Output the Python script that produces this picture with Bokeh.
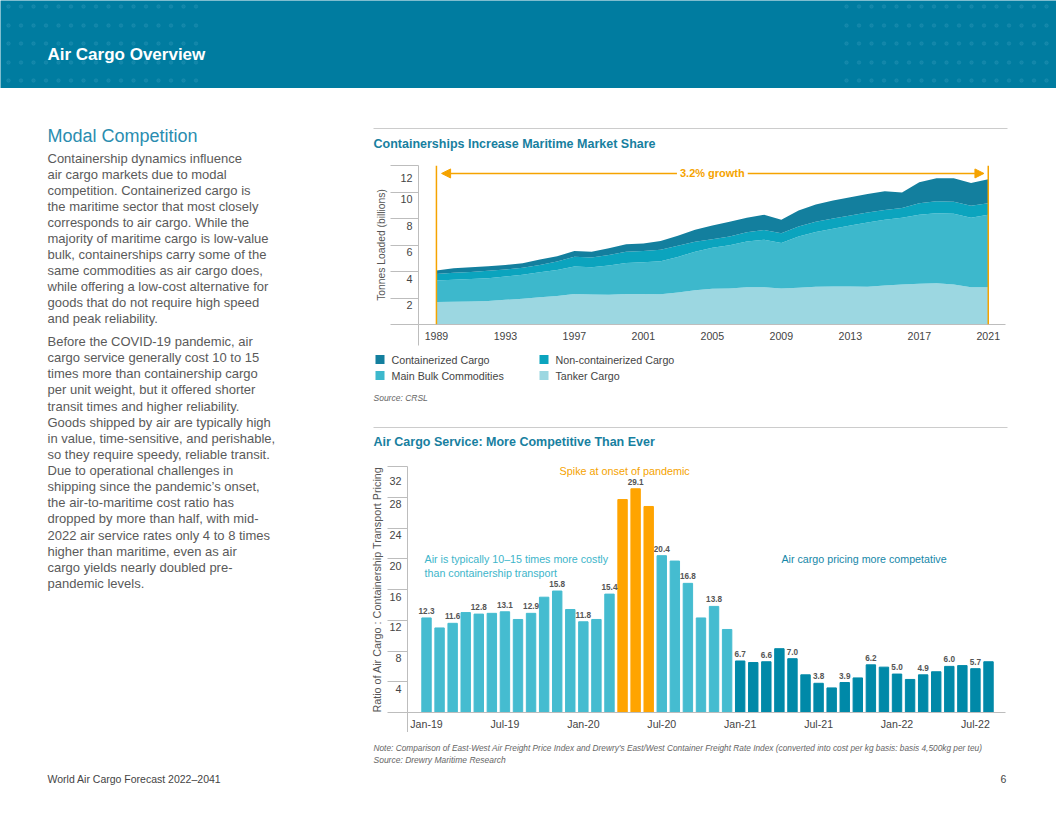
from bokeh.plotting import figure
from bokeh.models import (Range1d, FixedTicker, Label, Span, Arrow, NormalHead, ColumnDataSource)
from bokeh.layouts import column, row
from bokeh.embed import file_html
from bokeh.resources import INLINE
from bokeh.core.properties import value
import numpy as np

FONT = "Liberation Sans"

# ---------------- data: maritime trade (billion tonnes per layer) ----------------
years = list(range(1989, 2022))
tanker = [1.69, 1.72, 1.74, 1.78, 1.86, 1.95, 2.05, 2.15, 2.30, 2.26, 2.25, 2.30, 2.31,
          2.28, 2.42, 2.58, 2.69, 2.72, 2.82, 2.82, 2.72, 2.77, 2.85, 2.86, 2.87, 2.85,
          2.94, 3.02, 3.07, 3.12, 3.02, 2.82, 2.82]
bulk = [1.63, 1.66, 1.69, 1.72, 1.76, 1.80, 1.90, 1.97, 2.08, 2.06, 2.20, 2.35, 2.39,
        2.50, 2.68, 2.92, 3.10, 3.26, 3.44, 3.57, 3.44, 3.87, 4.13, 4.36, 4.60, 4.85,
        4.96, 5.03, 5.21, 5.28, 5.33, 5.23, 5.46]
noncont = [0.50, 0.52, 0.54, 0.55, 0.53, 0.53, 0.55, 0.63, 0.74, 0.73, 0.80, 0.85, 0.85,
           0.87, 0.85, 0.75, 0.65, 0.67, 0.71, 0.75, 0.73, 0.76, 0.77, 0.78, 0.76, 0.75,
           0.75, 0.75, 0.88, 0.91, 0.91, 0.91, 0.88]
cont = [0.26, 0.35, 0.35, 0.35, 0.35, 0.34, 0.40, 0.40, 0.43, 0.45, 0.50, 0.55, 0.57,
        0.65, 0.75, 0.90, 1.03, 1.10, 1.08, 1.14, 1.01, 1.20, 1.30, 1.35, 1.38, 1.40,
        1.41, 1.16, 1.58, 1.73, 1.78, 1.71, 1.81]
layer_names = ["Containerized Cargo", "Non-containerized Cargo",
               "Main Bulk Commodities", "Tanker Cargo"]
year_ticks = [1989, 1993, 1997, 2001, 2005, 2009, 2013, 2017, 2021]
tonnes_ticks = [0, 2, 4, 6, 8, 10, 12]

# ---------------- data: air / container price ratio ----------------
months = ["Jan-19", "Feb-19", "Mar-19", "Apr-19", "May-19", "Jun-19", "Jul-19", "Aug-19",
          "Sep-19", "Oct-19", "Nov-19", "Dec-19", "Jan-20", "Feb-20", "Mar-20", "Apr-20",
          "May-20", "Jun-20", "Jul-20", "Aug-20", "Sep-20", "Oct-20", "Nov-20", "Dec-20",
          "Jan-21", "Feb-21", "Mar-21", "Apr-21", "May-21", "Jun-21", "Jul-21", "Aug-21",
          "Sep-21", "Oct-21", "Nov-21", "Dec-21", "Jan-22", "Feb-22", "Mar-22", "Apr-22",
          "May-22", "Jun-22", "Jul-22", "Aug-22"]
ratio = [12.3, 11.0, 11.6, 13.0, 12.8, 12.9, 13.1, 12.1, 12.9, 15.0, 15.8, 13.4, 11.8,
         12.1, 15.4, 27.7, 29.1, 26.8, 20.4, 19.7, 16.8, 12.3, 13.8, 10.8, 6.7, 6.5,
         6.6, 8.3, 7.0, 4.9, 3.8, 3.2, 3.9, 4.5, 6.2, 5.9, 5.0, 4.3, 4.9, 5.3, 6.0,
         6.1, 5.7, 6.6]
phase = ["pre"] * 15 + ["spike"] * 3 + ["pre"] * 6 + ["post"] * 20
month_ticks = ["Jan-19", "Jul-19", "Jan-20", "Jul-20", "Jan-21", "Jul-21", "Jan-22", "Jul-22"]
ratio_ticks = [0, 4, 8, 12, 16, 20, 24, 28, 32]

# ---------------- colours ----------------
C_HEADER = "#007CA0"
C_TITLE = "#17809F"
C_CONT, C_NONCONT, C_BULK, C_TANKER = "#137F9E", "#0BA4BE", "#3DB8CC", "#9CD7E1"
PHASE_COL = {"pre": "#45BCD0", "spike": "#FFA400", "post": "#0089A8"}
ORANGE = "#F5A300"
AXIS = "#bdbdbd"
TICKTXT = "#444444"

TOP_X = (1987.96, 2022.0)
BOT_X = (-1.454, 44.30)


def blank(width, height, bg="white"):
    f = figure(width=width, height=height, x_range=Range1d(0, width), y_range=Range1d(height, 0),
               x_axis_location=None, y_axis_location=None, toolbar_location=None,
               output_backend="svg", min_border=0, frame_align=False)
    f.grid.visible = False
    f.outline_line_color = None
    f.background_fill_color = bg
    f.border_fill_color = bg
    return f


def txt(f, x, y, texts, size, color, style="normal", align="left"):
    f.text(x=x, y=y, text=texts, text_font=value(FONT), text_font_size=size,
           text_color=color, text_font_style=style, text_align=align,
           text_baseline="middle")


def style_common(p):
    p.grid.visible = False
    p.outline_line_color = None
    p.background_fill_color = "white"
    p.border_fill_color = "white"


def style_axes(ya, xa, tick_out, standoff, label, label_size, label_standoff, xstandoff, drop):
    ya.major_tick_out = tick_out
    ya.major_tick_in = 0
    ya.minor_tick_out = 0
    ya.minor_tick_in = 0
    ya.major_label_standoff = standoff
    ya.axis_line_color = AXIS
    ya.major_tick_line_color = AXIS
    ya.major_label_text_font = FONT
    ya.major_label_text_font_size = "10.8px"
    ya.major_label_text_color = TICKTXT
    ya.axis_label = label
    ya.axis_label_text_font = FONT
    ya.axis_label_text_font_size = label_size
    ya.axis_label_text_font_style = "normal"
    ya.axis_label_text_color = "#555555"
    ya.axis_label_standoff = label_standoff
    xa.major_tick_out = 0
    xa.major_tick_in = 0
    xa.minor_tick_out = drop
    xa.minor_tick_in = 0
    xa.minor_tick_line_color = AXIS
    xa.major_label_standoff = xstandoff - drop
    xa.axis_line_color = AXIS
    xa.major_label_text_font = FONT
    xa.major_label_text_font_size = "10.6px"
    xa.major_label_text_color = TICKTXT


# ---------------- header ----------------
hdr = blank(1056, 88, C_HEADER)
gx, gy = np.meshgrid(np.arange(8, 196, 12.5), [6, 25, 43, 62, 80])
hdr.scatter(gx.ravel(), gy.ravel(), size=3.5, color="#2f97b8", alpha=0.35)
gx2, gy2 = np.meshgrid(np.arange(846, 1050, 12.5), [6, 25, 43, 62, 80])
hdr.scatter(gx2.ravel(), gy2.ravel(), size=3.5, color="#2f97b8", alpha=0.35)
txt(hdr, [47], [54], ["Air Cargo Overview"], "17px", "white", "bold")

# ---------------- left text column ----------------
para1 = ["Containership dynamics influence",
         "air cargo markets due to modal",
         "competition. Containerized cargo is",
         "the maritime sector that most closely",
         "corresponds to air cargo. While the",
         "majority of maritime cargo is low-value",
         "bulk, containerships carry some of the",
         "same commodities as air cargo does,",
         "while offering a low-cost alternative for",
         "goods that do not require high speed",
         "and peak reliability."]
para2 = ["Before the COVID-19 pandemic, air",
         "cargo service generally cost 10 to 15",
         "times more than containership cargo",
         "per unit weight, but it offered shorter",
         "transit times and higher reliability.",
         "Goods shipped by air are typically high",
         "in value, time-sensitive, and perishable,",
         "so they require speedy, reliable transit.",
         "Due to operational challenges in",
         "shipping since the pandemic\u2019s onset,",
         "the air-to-maritime cost ratio has",
         "dropped by more than half, with mid-",
         "2022 air service rates only 4 to 8 times",
         "higher than maritime, even as air",
         "cargo yields nearly doubled pre-",
         "pandemic levels."]
left = blank(365, 682)
txt(left, [47], [47], ["Modal Competition"], "18px", "#2A8DB0")
ys1 = [70 + 16 * i for i in range(len(para1))]
ys2 = [253 + 16.13 * i for i in range(len(para2))]
txt(left, [47] * (len(para1) + len(para2)), ys1 + ys2, para1 + para2, "13px", "#5a5a5a")

# ---------------- top chart head ----------------
t1head = blank(691, 69)
t1head.segment(x0=[8], y0=[40], x1=[642], y1=[40], line_color="#cccccc", line_width=1)
txt(t1head, [8], [55], ["Containerships Increase Maritime Market Share"], "12.5px", C_TITLE, "bold")

# ---------------- top chart: stacked areas ----------------
p1 = figure(frame_width=587, frame_height=159, x_range=Range1d(*TOP_X),
            y_range=Range1d(0, 12), min_border_left=53, min_border_right=51,
            min_border_top=8, min_border_bottom=22, toolbar_location=None,
            output_backend="svg", frame_align=False)
style_common(p1)
src1 = ColumnDataSource(dict(year=years, tanker=tanker, bulk=bulk, noncont=noncont, cont=cont))
areas = p1.varea_stack(stackers=["tanker", "bulk", "noncont", "cont"], x="year",
                       color=[C_TANKER, C_BULK, C_NONCONT, C_CONT], source=src1)
for loc in (years[0], years[-1]):
    p1.add_layout(Span(location=loc, dimension="height", line_color=ORANGE, line_width=1.5))
p1.add_layout(Arrow(start=NormalHead(size=9, fill_color=ORANGE, line_color=ORANGE),
                    end=NormalHead(size=9, fill_color=ORANGE, line_color=ORANGE),
                    x_start=1989.3, x_end=2020.75, y_start=11.4, y_end=11.4,
                    line_color=ORANGE, line_width=1.5))
p1.add_layout(Label(x=2005, y=11.4, text="3.2% growth", text_font=FONT, text_font_size="11px",
                    text_font_style="bold", text_color=ORANGE, text_align="center",
                    text_baseline="middle", background_fill_color="white", padding=3))
ya = p1.yaxis[0]
ya.ticker = FixedTicker(ticks=tonnes_ticks)
ya.major_label_overrides = {t: ("" if t == 0 else "\n" + str(t)) for t in tonnes_ticks}
xa = p1.xaxis[0]
xa.ticker = FixedTicker(ticks=year_ticks, minor_ticks=[TOP_X[0]])
style_axes(ya, xa, 28, -22, "Tonnes Loaded (billions)", "10.3px", 10, 7, 21)

# ---------------- top chart foot: legend + source ----------------
t1foot = blank(691, 74)
leg_colors = [C_CONT, C_NONCONT, C_BULK, C_TANKER]
leg_x = [14.5, 178.5, 14.5, 178.5]
leg_y = [13, 13, 29, 29]
t1foot.rect(x=leg_x, y=leg_y, width=9, height=9, fill_color=leg_colors, line_color=None)
txt(t1foot, [x + 11.5 for x in leg_x], leg_y, layer_names, "10.7px", TICKTXT)
txt(t1foot, [8], [51], ["Source: CRSL"], "8.5px", "#666666", "italic")

# ---------------- bottom chart head ----------------
t2head = blank(691, 40)
t2head.segment(x0=[8], y0=[7], x1=[642], y1=[7], line_color="#cccccc", line_width=1)
txt(t2head, [8], [21], ["Air Cargo Service: More Competitive Than Ever"], "12.5px", C_TITLE, "bold")

# ---------------- bottom chart: bars ----------------
idx = list(range(len(months)))
src2 = ColumnDataSource(dict(i=idx, ratio=ratio, color=[PHASE_COL[ph] for ph in phase],
                             lab=[(f"{v:.1f}" if k % 2 == 0 else "") for k, v in enumerate(ratio)]))
p2 = figure(frame_width=598, frame_height=246, x_range=Range1d(*BOT_X),
            y_range=Range1d(0, 32), min_border_left=42, min_border_right=51,
            min_border_top=6, min_border_bottom=20, toolbar_location=None,
            output_backend="svg", frame_align=False)
style_common(p2)
p2.vbar(x="i", top="ratio", width=0.72, color="color", source=src2)
p2.text(x="i", y="ratio", text="lab", source=src2, y_offset=-7, text_align="center",
        text_baseline="middle", text_font=value(FONT), text_font_size="8.2px",
        text_font_style="bold", text_color="#555555")
ya2 = p2.yaxis[0]
ya2.ticker = FixedTicker(ticks=ratio_ticks)
ya2.major_label_overrides = {t: ("" if t == 0 else "\n" + str(t)) for t in ratio_ticks}
xa2 = p2.xaxis[0]
xa2.ticker = FixedTicker(ticks=[months.index(m) for m in month_ticks], minor_ticks=[BOT_X[0]])
xa2.major_label_overrides = {months.index(m): m for m in month_ticks}
style_axes(ya2, xa2, 20, -14, "Ratio of Air Cargo : Containership Transport Pricing",
           "10.8px", 3, 5, 20)


def note(p, x, y, text, size, color, align="left"):
    p.add_layout(Label(x=x, y=y, text=text, text_font=FONT, text_font_size=size,
                       text_color=color, text_align=align, text_baseline="middle"))


note(p2, 15.16, 31.45, "Spike at onset of pandemic", "10.8px", ORANGE, "center")
note(p2, -0.15, 20.0, "Air is typically 10\u201315 times more costly", "10.7px", "#3DB5CA")
note(p2, -0.15, 18.2, "than containership transport", "10.7px", "#3DB5CA")
note(p2, 27.16, 20.0, "Air cargo pricing more competative", "10.7px", "#1687A8")

# ---------------- bottom chart foot ----------------
t2foot = blank(691, 38)
txt(t2foot, [8], [15], ["Note: Comparison of East-West Air Freight Price Index and Drewry\u2019s "
                        "East/West Container Freight Rate Index (converted into cost per kg "
                        "basis: basis 4,500kg per teu)"], "8.3px", "#666666", "italic")
txt(t2foot, [8], [27], ["Source: Drewry Maritime Research"], "8.5px", "#666666", "italic")

# ---------------- footer ----------------
ftr = blank(1056, 44)
txt(ftr, [47], [8], ["World Air Cargo Forecast 2022\u20132041"], "10.5px", "#444444")
txt(ftr, [1003], [8], ["6"], "10.5px", "#444444", align="center")

right = column(t1head, p1, t1foot, t2head, p2, t2foot)
page = column(hdr, row(left, right), ftr)
open("out.html", "w").write(file_html(page, INLINE))
